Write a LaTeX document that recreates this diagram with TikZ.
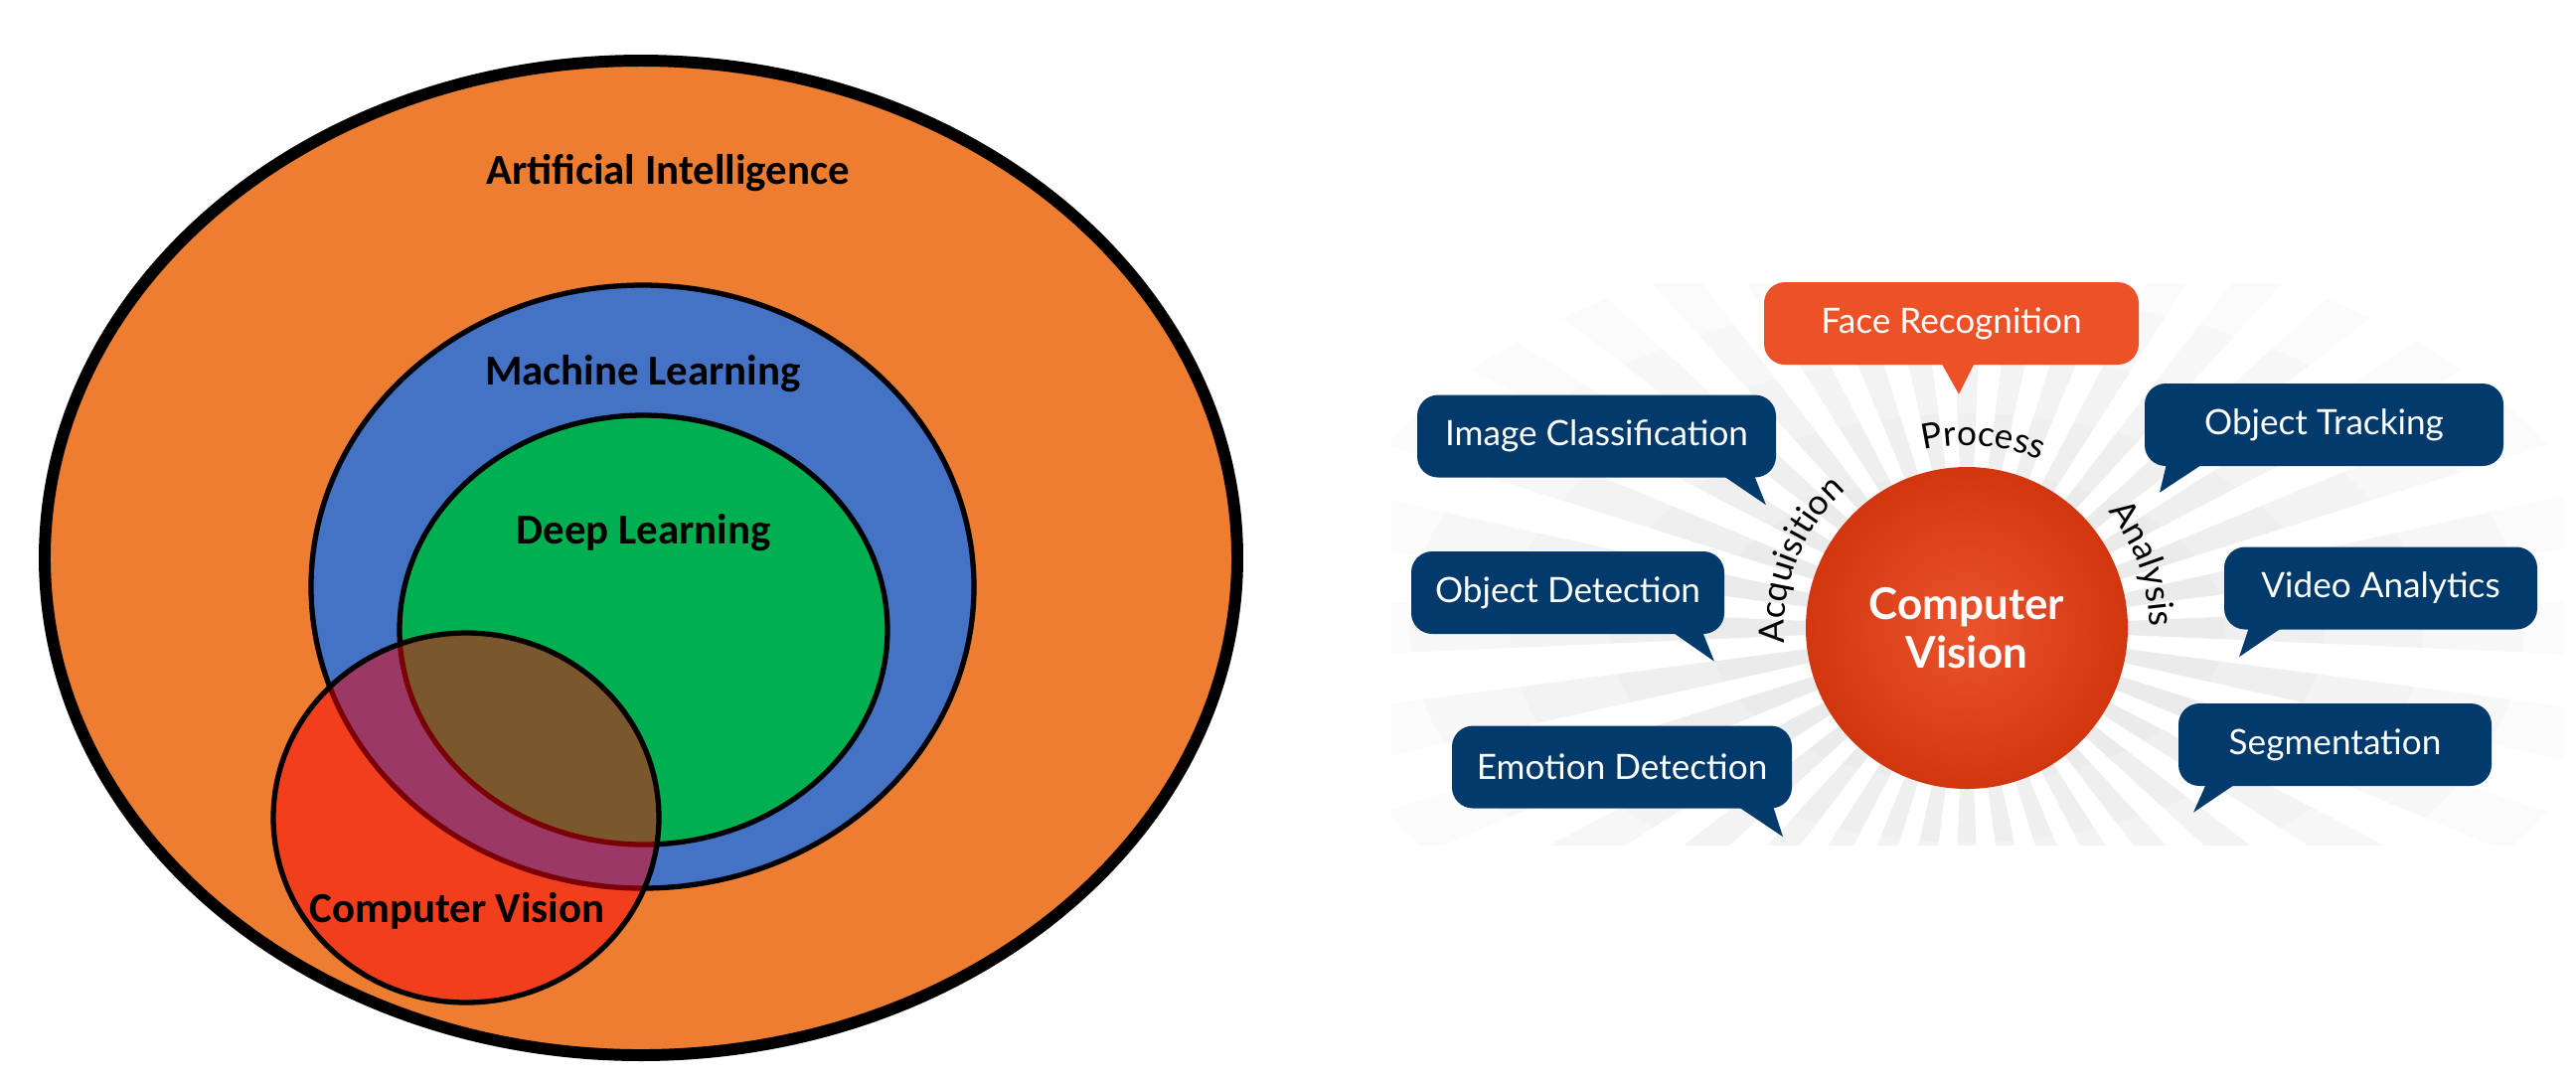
\documentclass[tikz,border=0pt]{standalone}
\usepackage{fontspec}
\usepackage{xcolor}
\usepackage{tikz}
\usetikzlibrary{calc, decorations.text}
\newfontfamily\calfont{Carlito}
\newfontfamily\latofont{Lato}
\definecolor{aiorange}{HTML}{ED7D31}
\definecolor{mlblue}{HTML}{4472C4}
\definecolor{dlgreen}{HTML}{00B050}
\definecolor{cvred}{RGB}{245,0,10}
\definecolor{callnavy}{HTML}{023A6B}
\definecolor{callorange}{HTML}{EC5128}
\definecolor{hubin}{HTML}{EA542C}
\definecolor{hubout}{HTML}{D2360F}
\newcommand{\arcfont}{\latofont\fontsize{10}{12}\selectfont}

\begin{document}
\begin{tikzpicture}[
    venn/.style={line width=1.5pt},
    vlabel/.style={anchor=base, font=\calfont\bfseries\fontsize{12.2}{14}\selectfont},
    callout/.style={fill=#1, rounded corners=6pt, text=white, inner sep=0pt, minimum height=0.83cm, font=\latofont\fontsize{10}{12}\selectfont},
    arclabel/.style={decorate, decoration={text along path, text={|\arcfont|#1}, text align=center}},
    raylayer/.style={fill=black, opacity=0.015},
]
    \useasboundingbox (0,0) rectangle (25.92,-10.84);

    % Venn diagram
    \filldraw[fill=aiorange, line width=3.4pt] (6.45,-5.615) ellipse (6.00 and 5.005);
    \filldraw[venn, fill=mlblue] (6.465,-5.905) ellipse (3.335 and 3.035);
    \filldraw[venn, fill=dlgreen] (6.475,-6.34) ellipse (2.455 and 2.16);
    \fill[cvred, opacity=0.5] (4.69,-8.23) ellipse (1.94 and 1.86);
    \draw[venn] (4.69,-8.23) ellipse (1.94 and 1.86);

    \node[vlabel] (ailbl) at (6.72,-1.85) {Artificial Intelligence};
    \node[vlabel] (mllbl) at (6.47,-3.87) {Machine Learning};
    \node[vlabel] (dllbl) at (6.475,-5.47) {Deep Learning};
    \node[vlabel] (cvlbl) at (4.60,-9.28) {Computer Vision};

    % Background rays, fading outwards
    \coordinate (hub) at (19.79,-6.32);
    \begin{scope}
        \clip (14.0,-2.85) rectangle (25.8,-8.5);
        \foreach \r in {2.6,3.6,4.6,5.6,6.6} {
            \begin{scope}
                \clip (hub) ellipse ({\r} and {0.6*\r});
                \fill[raylayer] foreach \a in {0,10,...,350} { (hub) -- +(\a-2.5:9) -- +(\a+2.5:9) -- cycle };
            \end{scope}
        }
    \end{scope}

    % Hub
    \node[circle, minimum size=3.24cm, inner sep=0pt, shading=radial, inner color=hubin, outer color=hubout,
          text=white, align=center, font=\latofont\bfseries\fontsize{12.5}{13.9}\selectfont] (cv) at (hub) {Computer\\Vision};

    \path[arclabel=Process] ($(hub)+(110:1.84)$) arc[start angle=110, end angle=60, radius=1.84];
    \path[arclabel=Acquisition] ($(hub)+(186:1.84)$) arc[start angle=186, end angle=130, radius=1.84];
    \path[arclabel=Analysis] ($(hub)+(46:1.84)$) arc[start angle=46, end angle=-6, radius=1.84];

    % Callouts
    \node[callout=callorange, minimum width=3.77cm] (fr) at (19.635,-3.255) {Face Recognition};
    \node[callout=callnavy, minimum width=3.61cm] (ic) at (16.065,-4.39) {Image Classification};
    \node[callout=callnavy, minimum width=3.15cm] (od) at (15.775,-5.965) {Object Detection};
    \node[callout=callnavy, minimum width=3.42cm] (ed) at (16.32,-7.72) {Emotion Detection};
    \node[callout=callnavy, minimum width=3.61cm] (ot) at (23.385,-4.275) {Object Tracking};
    \node[callout=callnavy, minimum width=3.15cm] (va) at (23.955,-5.92) {Video Analytics};
    \node[callout=callnavy, minimum width=3.15cm] (sg) at (23.495,-7.495) {Segmentation};

    % Callout tails
    \fill[callorange] ($(fr.south)+(-0.105,0.03)$) -- ($(fr.south)+(0.235,0.03)$) -- ($(fr.south)+(0.075,-0.29)$) -- cycle;
    \fill[callnavy] ($(ic.south)+(1.265,0.03)$) -- ($(ic.south)+(1.585,0.03)$) -- ($(ic.south)+(1.705,-0.27)$) -- cycle;
    \fill[callnavy] ($(od.south)+(1.045,0.03)$) -- ($(od.south)+(1.355,0.03)$) -- ($(od.south)+(1.475,-0.27)$) -- cycle;
    \fill[callnavy] ($(ed.south)+(1.16,0.03)$) -- ($(ed.south)+(1.52,0.03)$) -- ($(ed.south)+(1.62,-0.28)$) -- cycle;
    \fill[callnavy] ($(ot.south)+(-1.585,0.03)$) -- ($(ot.south)+(-1.215,0.03)$) -- ($(ot.south)+(-1.655,-0.26)$) -- cycle;
    \fill[callnavy] ($(va.south)+(-1.325,0.03)$) -- ($(va.south)+(-0.985,0.03)$) -- ($(va.south)+(-1.425,-0.27)$) -- cycle;
    \fill[callnavy] ($(sg.south)+(-1.295,0.03)$) -- ($(sg.south)+(-0.995,0.03)$) -- ($(sg.south)+(-1.425,-0.26)$) -- cycle;
\end{tikzpicture}
\end{document}
